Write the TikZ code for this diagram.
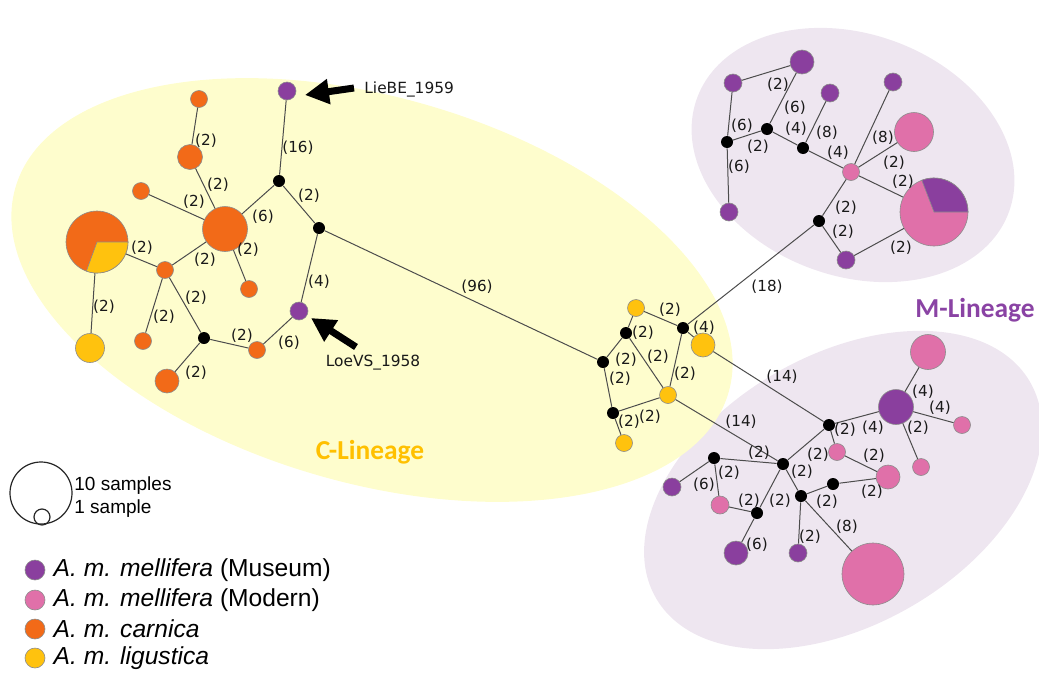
\documentclass[tikz,border=0pt]{standalone}
\usepackage{fontspec}
\setmainfont{Liberation Sans}
\newfontfamily\lblfont{DejaVu Sans}
\newfontfamily\linfont{Carlito}
\usetikzlibrary{arrows.meta, positioning}

\definecolor{museum}{HTML}{8A3F9E}
\definecolor{modern}{HTML}{E070A9}
\definecolor{carnica}{HTML}{F26A18}
\definecolor{ligustica}{HTML}{FFC20E}
\definecolor{cfill}{HTML}{FEFDCD}
\definecolor{mfill}{HTML}{EEE6F0}
\definecolor{ctext}{HTML}{FFC000}
\definecolor{mtext}{HTML}{8A43A4}

\begin{document}
\begin{tikzpicture}[x=0.5pt, y=-0.5pt,
    hap/.style={circle, draw=black!45, line width=0.3pt, inner sep=0pt},
    mus/.style={hap, fill=museum, minimum size=#1pt}, mus/.default=9,
    mod/.style={hap, fill=modern, minimum size=#1pt}, mod/.default=8.5,
    car/.style={hap, fill=carnica, minimum size=#1pt}, car/.default=8.5,
    lig/.style={hap, fill=ligustica, minimum size=#1pt}, lig/.default=8.5,
    jn/.style={circle, fill=black, inner sep=0pt, minimum size=6pt},
    net/.style={draw=black!70, line width=0.5pt},
    lbl/.style={font=\lblfont\fontsize{7.6}{8}\selectfont, text=black!90, inner sep=0pt},
    bigarr/.style={line width=3.5pt, -{Triangle[width=12pt, length=12pt]}},
    legtxt/.style={font=\fontsize{12.3}{14}\selectfont, inner sep=0pt, anchor=west}]

  \clip (0,0) rectangle (1039,675);

  % lineage areas
  \fill[mfill, rotate around={-20:(853,155)}] (853,155) ellipse [x radius=166, y radius=121];
  \fill[mfill, rotate around={30:(843,490)}] (843,490) ellipse [x radius=216, y radius=135];
  \fill[cfill, rotate around={-16:(372,290)}] (372,290) ellipse [x radius=371, y radius=193];

  % C-lineage, left part
  \node[car] (O1) at (199,99) {};
  \node[car=12.5] (O2) at (190,157) {};
  \node[car] (O3) at (141,191) {};
  \node[car=22.5] (O4) at (225,229) {};
  \node[car=31] (Pie1) at (97,242) {};
  \fill[ligustica, draw=black!45, line width=0.3pt] (Pie1.center) -- ++(0:31)
    arc[start angle=0, end angle=110, radius=31] -- cycle;
  \node[car] (O5) at (165,270) {};
  \node[car] (O6) at (249,289) {};
  \node[lig=14.5] (Y1) at (90,348) {};
  \node[car] (O7) at (143,341) {};
  \node[car=12] (O8) at (167,381) {};
  \node[car] (O9) at (257,350) {};
  \node[mus] (LoeVS) at (299,311) {};
  \node[mus] (LieBE) at (287,91) {};
  \node[jn] (J1) at (279,181) {};
  \node[jn] (J2) at (319,228) {};
  \node[jn] (J3) at (204,338) {};

  % C-lineage, middle part
  \node[lig] (Ya) at (636,308) {};
  \node[jn] (Ja) at (626,333) {};
  \node[jn] (Jb) at (603,362) {};
  \node[jn] (Jc) at (613,413) {};
  \node[lig] (Yb) at (624,443) {};
  \node[lig] (Yc) at (668,395) {};
  \node[jn] (Jd) at (683,328) {};
  \node[lig=12] (Yd) at (703,345) {};

  % M-lineage, upper part
  \node[mus] (P1) at (733,83) {};
  \node[mus=12] (P2) at (802,62) {};
  \node[mus] (P3) at (830,93) {};
  \node[mus] (P4) at (893,82) {};
  \node[mod=19.5] (Q1) at (914,132) {};
  \node[jn] (K1) at (727,142) {};
  \node[jn] (K2) at (767,129) {};
  \node[jn] (K3) at (803,148) {};
  \node[mod] (Q2) at (851,172) {};
  \node[mus] (P5) at (729,212) {};
  \node[mod=34] (Pie2) at (934,212) {};
  \fill[museum, draw=black!45, line width=0.3pt] (Pie2.center) -- ++(0:34)
    arc[start angle=0, end angle=-111, radius=34] -- cycle;
  \node[jn] (K4) at (819,221) {};
  \node[mus] (P6) at (846,260) {};

  % M-lineage, lower part
  \node[mod=17.5] (R1) at (928,352) {};
  \node[mus=17.5] (M1) at (896,407) {};
  \node[mod] (R2) at (962,425) {};
  \node[mod] (R3) at (921,467) {};
  \node[jn] (L1) at (829,425) {};
  \node[mod] (R4) at (837,452) {};
  \node[mod=12] (R5) at (888,477) {};
  \node[jn] (L2) at (783,464) {};
  \node[jn] (L3) at (714,458) {};
  \node[mus] (M2) at (672,487) {};
  \node[mod=9] (R6) at (720,505) {};
  \node[jn] (L4) at (757,513) {};
  \node[jn] (L5) at (801,496) {};
  \node[jn] (L6) at (833,484) {};
  \node[mus=12] (M3) at (736,553) {};
  \node[mus] (M4) at (798,553) {};
  \node[mod=31] (R7) at (873,574) {};

  % links
  \draw[net] (O1) -- (O2) node[lbl] (e1) at (206,141) {(2)};
  \draw[net] (O2) -- (O4) node[lbl] (e2) at (218,185) {(2)};
  \draw[net] (O3) -- (O4) node[lbl] (e3) at (194,202) {(2)};
  \draw[net] (O4) -- (J1) node[lbl] (e4) at (263,217) {(6)};
  \draw[net] (O4) -- (O6) node[lbl] (e5) at (248,250) {(2)};
  \draw[net] (O4) -- (O5) node[lbl] (e6) at (205,260) {(2)};
  \draw[net] (Pie1) -- (O5) node[lbl] (e7) at (142,248) {(2)};
  \draw[net] (Pie1) -- (Y1) node[lbl] (e8) at (104,307) {(2)};
  \draw[net] (O5) -- (O7) node[lbl] (e9) at (164,317) {(2)};
  \draw[net] (O5) -- (J3) node[lbl] (e10) at (196,298) {(2)};
  \draw[net] (J3) -- (O8) node[lbl] (e11) at (196,373) {(2)};
  \draw[net] (J3) -- (O9) node[lbl] (e12) at (242,336) {(2)};
  \draw[net] (O9) -- (LoeVS) node[lbl] (e13) at (289,343) {(6)};
  \draw[net] (LoeVS) -- (J2) node[lbl] (e14) at (319,282) {(4)};
  \draw[net] (J1) -- (LieBE) node[lbl] (e15) at (298,148) {(16)};
  \draw[net] (J1) -- (J2) node[lbl] (e16) at (309,196) {(2)};
  \draw[net] (J2) -- (Jb) node[lbl] (e17) at (477,287) {(96)};

  \draw[net] (Ya) -- (Jd) node[lbl] (e18) at (670,310) {(2)};
  \draw[net] (Ya) -- (Ja) node[lbl] (e19) at (643,333) {(2)};
  \draw[net] (Jb) -- (Ja) node[lbl] (e20) at (626,360) {(2)};
  \draw[net] (Ja) -- (Yc) node[lbl] (e21) at (658,357) {(2)};
  \draw[net] (Jb) -- (Jc) node[lbl] (e22) at (620,379) {(2)};
  \draw[net] (Jd) -- (Yc) node[lbl] (e23) at (685,374) {(2)};
  \draw[net] (Jc) -- (Yb) node[lbl] (e24) at (629,422) {(2)};
  \draw[net] (Jc) -- (Yc) node[lbl] (e25) at (650,417) {(2)};
  \draw[net] (Jd) -- (Yd) node[lbl] (e26) at (704,328) {(4)};
  \draw[net] (Jd) -- (K4) node[lbl] (e27) at (767,287) {(18)};
  \draw[net] (Yd) -- (L1) node[lbl] (e28) at (782,377) {(14)};
  \draw[net] (Yc) -- (L2) node[lbl] (e29) at (741,422) {(14)};

  \draw[net] (P1) -- (P2) node[lbl] (e30) at (778,85) {(2)};
  \draw[net] (K2) -- (P2) node[lbl] (e31) at (795,108) {(6)};
  \draw[net] (P1) -- (K1) node[lbl] (e32) at (742,126) {(6)};
  \draw[net] (K1) -- (K2) node[lbl] (e33) at (758,147) {(2)};
  \draw[net] (K1) -- (P5) node[lbl] (e34) at (739,167) {(6)};
  \draw[net] (K2) -- (K3) node[lbl] (e35) at (796,129) {(4)};
  \draw[net] (K3) -- (P3) node[lbl] (e36) at (827,133) {(8)};
  \draw[net] (K3) -- (Q2) node[lbl] (e37) at (838,153) {(4)};
  \draw[net] (Q2) -- (P4) node[lbl] (e38) at (883,138) {(8)};
  \draw[net] (Q2) -- (Q1) node[lbl] (e39) at (894,163) {(2)};
  \draw[net] (Q2) -- (Pie2) node[lbl] (e40) at (903,182) {(2)};
  \draw[net] (Q2) -- (K4) node[lbl] (e41) at (846,208) {(2)};
  \draw[net] (K4) -- (P6) node[lbl] (e42) at (843,232) {(2)};
  \draw[net] (P6) -- (Pie2) node[lbl] (e43) at (901,248) {(2)};

  \draw[net] (L1) -- (M1) node[lbl] (e44) at (873,428) {(4)};
  \draw[net] (L1) -- (R4) node[lbl] (e45) at (845,430) {(2)};
  \draw[net] (L1) -- (L2) node[lbl] (e46) at (818,455) {(2)};
  \draw[net] (M1) -- (R1) node[lbl] (e47) at (923,392) {(4)};
  \draw[net] (M1) -- (R2) node[lbl] (e48) at (940,408) {(4)};
  \draw[net] (M1) -- (R3) node[lbl] (e49) at (918,428) {(2)};
  \draw[net] (R4) -- (R5) node[lbl] (e50) at (874,456) {(2)};
  \draw[net] (L6) -- (R5) node[lbl] (e51) at (872,492) {(2)};
  \draw[net] (L5) -- (L6) node[lbl] (e52) at (827,502) {(2)};
  \draw[net] (L3) -- (L2) node[lbl] (e53) at (759,453) {(2)};
  \draw[net] (L3) -- (M2) node[lbl] (e54) at (704,485) {(6)};
  \draw[net] (L3) -- (R6) node[lbl] (e55) at (729,473) {(2)};
  \draw[net] (R6) -- (L4) node[lbl] (e56) at (749,501) {(2)};
  \draw[net] (L2) -- (L4) node[lbl] (e57) at (780,501) {(2)};
  \draw[net] (L4) -- (M3) node[lbl] (e58) at (757,545) {(6)};
  \draw[net] (L5) -- (M4) node[lbl] (e59) at (810,537) {(2)};
  \draw[net] (L5) -- (R7) node[lbl] (e60) at (847,527) {(8)};
  \draw[net] (L2) -- (L5) node[lbl] (e61) at (802,472) {(2)};

  % museum samples
  \node[lbl, anchor=west, font=\lblfont\fontsize{7.7}{9}\selectfont] (lieLbl) at (364,89) {LieBE\_1959};
  \node[lbl, font=\lblfont\fontsize{7.7}{9}\selectfont] (loeLbl) at (373,363) {LoeVS\_1958};
  \coordinate (lieTail) at (354,88);
  \coordinate (lieTip) at (305,95);
  \coordinate (loeTail) at (356,347);
  \coordinate (loeTip) at (311,318);
  \draw[bigarr] (lieTail) -- (lieTip);
  \draw[bigarr] (loeTail) -- (loeTip);

  % lineage names
  \node[font=\linfont\bfseries\fontsize{13.7}{16}\selectfont, text=ctext] (cName) at (370,452) {C-Lineage};
  \node[font=\linfont\bfseries\fontsize{13.7}{16}\selectfont, text=mtext] (mName) at (975,310) {M-Lineage};

  % legend
  \node[circle, draw=black!85, line width=0.6pt, minimum size=31pt, inner sep=0pt] (tenC) at (41,493) {};
  \node[circle, draw=black!85, line width=0.6pt, minimum size=8pt, inner sep=0pt] (oneC) at (42,517) {};
  \node[legtxt, font=\fontsize{9.5}{11}\selectfont] (tenT) at (74,486) {10 samples};
  \node[legtxt, font=\fontsize{9.5}{11}\selectfont] (oneT) at (74,509) {1 sample};

  \node[mus=10] (k1) at (35,570) {};
  \node[mod=10] (k2) at (35,600) {};
  \node[car=10] (k3) at (35,629) {};
  \node[lig=10] (k4) at (35,658) {};
  \node[legtxt, right=4pt of k1] (t1) {\textit{A. m. mellifera} (Museum)};
  \node[legtxt, right=4pt of k2] (t2) {\textit{A. m. mellifera} (Modern)};
  \node[legtxt, right=4pt of k3] (t3) {\textit{A. m. carnica}};
  \node[legtxt, right=4pt of k4] (t4) {\textit{A. m. ligustica}};
\end{tikzpicture}
\end{document}
